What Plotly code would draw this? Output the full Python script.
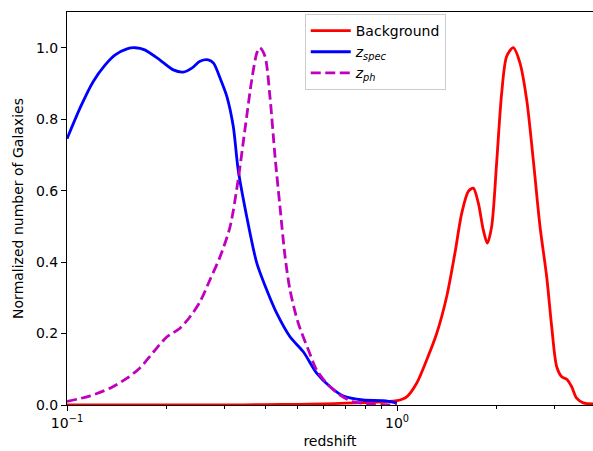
import plotly.graph_objects as go
import math

# Background (red) curve
bg_z = [0.100, 0.200, 0.300, 0.400, 0.500, 0.600, 0.700, 0.800, 0.900, 1.000, 1.070, 1.147,
        1.230, 1.319, 1.414, 1.498, 1.571, 1.645, 1.703, 1.764, 1.826, 1.878, 1.936, 2.005,
        2.076, 2.150, 2.251, 2.359, 2.472, 2.588, 2.713, 2.842, 2.943, 3.048, 3.156, 3.268,
        3.383, 3.503, 3.668, 3.926]
bg_n = [0.000, 0.000, 0.000, 0.001, 0.002, 0.003, 0.005, 0.007, 0.009, 0.012, 0.023, 0.061,
        0.126, 0.200, 0.303, 0.425, 0.537, 0.598, 0.607, 0.565, 0.490, 0.453, 0.500, 0.680,
        0.873, 0.976, 1.000, 0.957, 0.854, 0.686, 0.499, 0.359, 0.219, 0.107, 0.079, 0.072,
        0.051, 0.019, 0.006, 0.003]

# z_spec (blue) curve
spec_z = [0.100, 0.110, 0.120, 0.130, 0.140, 0.152, 0.161, 0.172, 0.191, 0.210, 0.225, 0.239,
          0.253, 0.268, 0.278, 0.291, 0.305, 0.319, 0.330, 0.350, 0.376, 0.403, 0.432, 0.474,
          0.520, 0.571, 0.627, 0.688, 0.790, 0.909, 1.000]
spec_n = [0.745, 0.835, 0.905, 0.950, 0.980, 0.997, 1.000, 0.994, 0.966, 0.938, 0.932, 0.943,
          0.962, 0.966, 0.957, 0.915, 0.864, 0.780, 0.660, 0.530, 0.397, 0.322, 0.257, 0.191,
          0.149, 0.089, 0.051, 0.025, 0.014, 0.012, 0.005]

# z_ph (magenta dashed) curve
ph_z = [0.100, 0.117, 0.135, 0.152, 0.166, 0.183, 0.201, 0.220, 0.236, 0.253, 0.271, 0.291,
        0.312, 0.330, 0.346, 0.363, 0.376, 0.384, 0.398, 0.412, 0.427, 0.442, 0.458, 0.474,
        0.502, 0.539, 0.571, 0.612, 0.672, 0.737, 0.828, 1.000]
ph_n = [0.010, 0.025, 0.047, 0.075, 0.103, 0.149, 0.191, 0.215, 0.247, 0.289, 0.350, 0.415,
        0.499, 0.630, 0.770, 0.910, 0.985, 1.000, 0.976, 0.864, 0.695, 0.555, 0.415, 0.322,
        0.229, 0.154, 0.098, 0.061, 0.028, 0.009, 0.003, 0.000]

x_major = [0.1, 1.0]
x_major_text = ["10<sup>\u22121</sup>", "10<sup>0</sup>"]
x_minor = [0.2, 0.3, 0.4, 0.5, 0.6, 0.7, 0.8, 0.9, 2.0, 3.0]
y_ticks = [0.0, 0.2, 0.4, 0.6, 0.8, 1.0]
y_tick_text = ["0.0", "0.2", "0.4", "0.6", "0.8", "1.0"]

FONT = "DejaVu Sans"

fig = go.Figure()
fig.add_trace(go.Scatter(x=bg_z, y=bg_n, mode="lines", name="Background",
                         line=dict(color="#ff0000", width=2.8, shape="spline", smoothing=0.8)))
fig.add_trace(go.Scatter(x=spec_z, y=spec_n, mode="lines", name="<i>z</i><sub><i>spec</i></sub>",
                         line=dict(color="#0000ff", width=2.8, shape="spline", smoothing=0.8)))
fig.add_trace(go.Scatter(x=ph_z, y=ph_n, mode="lines", name="<i>z</i><sub><i>ph</i></sub>",
                         line=dict(color="#bf00bf", width=2.8, dash="10px,4.5px",
                                   shape="spline", smoothing=0.8)))

fig.update_layout(
    width=593, height=451,
    margin=dict(l=67, r=0, t=12, b=46),
    paper_bgcolor="white", plot_bgcolor="white",
    font=dict(family=FONT, size=14, color="black"),
    showlegend=True,
    legend=dict(x=0.452, y=0.995, xanchor="left", yanchor="top",
                bgcolor="rgba(255,255,255,0.8)", bordercolor="#cccccc", borderwidth=1,
                font=dict(family=FONT, size=14), tracegroupgap=0, itemwidth=40),
    xaxis=dict(type="log", range=[-1, math.log10(3.926)],
               tickmode="array", tickvals=x_major, ticktext=x_major_text,
               ticks="outside", ticklen=5, tickwidth=1.1, tickcolor="black",
               showline=True, linecolor="black", linewidth=1.1, mirror=True,
               showgrid=False, zeroline=False,
               minor=dict(tickmode="array", tickvals=x_minor, ticks="outside",
                          ticklen=3, tickwidth=0.8, tickcolor="black", showgrid=False),
               title=dict(text="redshift", standoff=6, font=dict(family=FONT, size=14)),
               automargin=False),
    yaxis=dict(range=[0, 1.1], tickmode="array", tickvals=y_ticks, ticktext=y_tick_text,
               ticks="outside", ticklen=5, tickwidth=1.1, tickcolor="black",
               showline=True, linecolor="black", linewidth=1.1, mirror=False,
               showgrid=False, zeroline=False,
               title=dict(text="Normalized number of Galaxies", standoff=8,
                          font=dict(family=FONT, size=14)),
               automargin=False),
)

fig.write_html("out.html", config={"displayModeBar": False})

# remove the default page margin so the figure sits at the window's top-left corner
with open("out.html", "r", encoding="utf-8") as f:
    html = f.read()
html = html.replace("<body>", '<body style="margin:0;padding:0;overflow:hidden">', 1)
with open("out.html", "w", encoding="utf-8") as f:
    f.write(html)
